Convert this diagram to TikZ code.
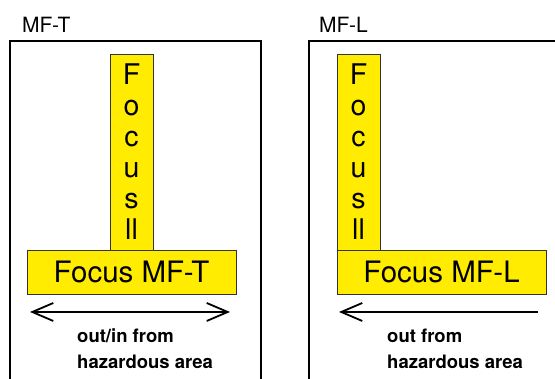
\documentclass[tikz,border=0pt]{standalone}
\usepackage{fontspec}
\setmainfont{TeX Gyre Heros}
\usepackage{xcolor}
\usepackage{tikz}
\usetikzlibrary{
	arrows.meta,
	positioning
}
\definecolor{focusyellow}{RGB}{255,236,0}

\begin{document}
\begin{tikzpicture}[x=1pt, y=1pt,
		>={Straight Barb[length=21pt, width=18pt]},
		frame/.style={line width=1.6pt},
		bar/.style={draw=black!80, line width=0.8pt, fill=focusyellow, inner sep=0pt, outer sep=0pt},
		hbar/.style={bar, minimum width=209pt, minimum height=44pt, font=\fontsize{29.5}{31}\selectfont},
		vbar/.style={bar, minimum width=43pt, minimum height=196pt, align=center, font=\fontsize{28.5}{31}\selectfont},
		title/.style={font=\fontsize{21}{25}\selectfont, inner sep=0pt, anchor=base west},
		move/.style={line width=1.8pt},
		note/.style={font=\bfseries\fontsize{18.5}{26}\selectfont, align=left, inner sep=0pt, anchor=north west}]
		\useasboundingbox (0,0) rectangle (555,379);
		\clip (0,0) rectangle (555,379);
		% the two frames
		\draw[frame] (10,338) rectangle (261,-10);
		\draw[frame] (309,338) rectangle (565,-10);
		\node[title] (tT) at (22,346) {MF-T};
		\node[title] (tL) at (319,346) {MF-L};
		% T shape
		\node[hbar] (focT) at (131.5,107) {Focus MF-T};
		\node[vbar, above=0pt of focT] (colT) {F\\o\\c\\u\\s\\ll};
		% L shape
		\node[hbar] (focL) at (441.5,107) {Focus MF-L};
		\node[vbar, anchor=south west] (colL) at (focL.north west) {F\\o\\c\\u\\s\\ll};
		% movement
		\coordinate (inT) at (30,67);
		\coordinate (outT) at (230,67);
		\draw[move, <->] (inT) -- (outT);
		\coordinate (inL) at (339,67);
		\coordinate (outL) at (538,67);
		\draw[move, ->] (outL) -- (inL);
		\node[note] (nT) at (77,50) {out/in from\\hazardous area};
		\node[note] (nL) at (387,50) {out from\\hazardous area};
	\end{tikzpicture}
\end{document}
